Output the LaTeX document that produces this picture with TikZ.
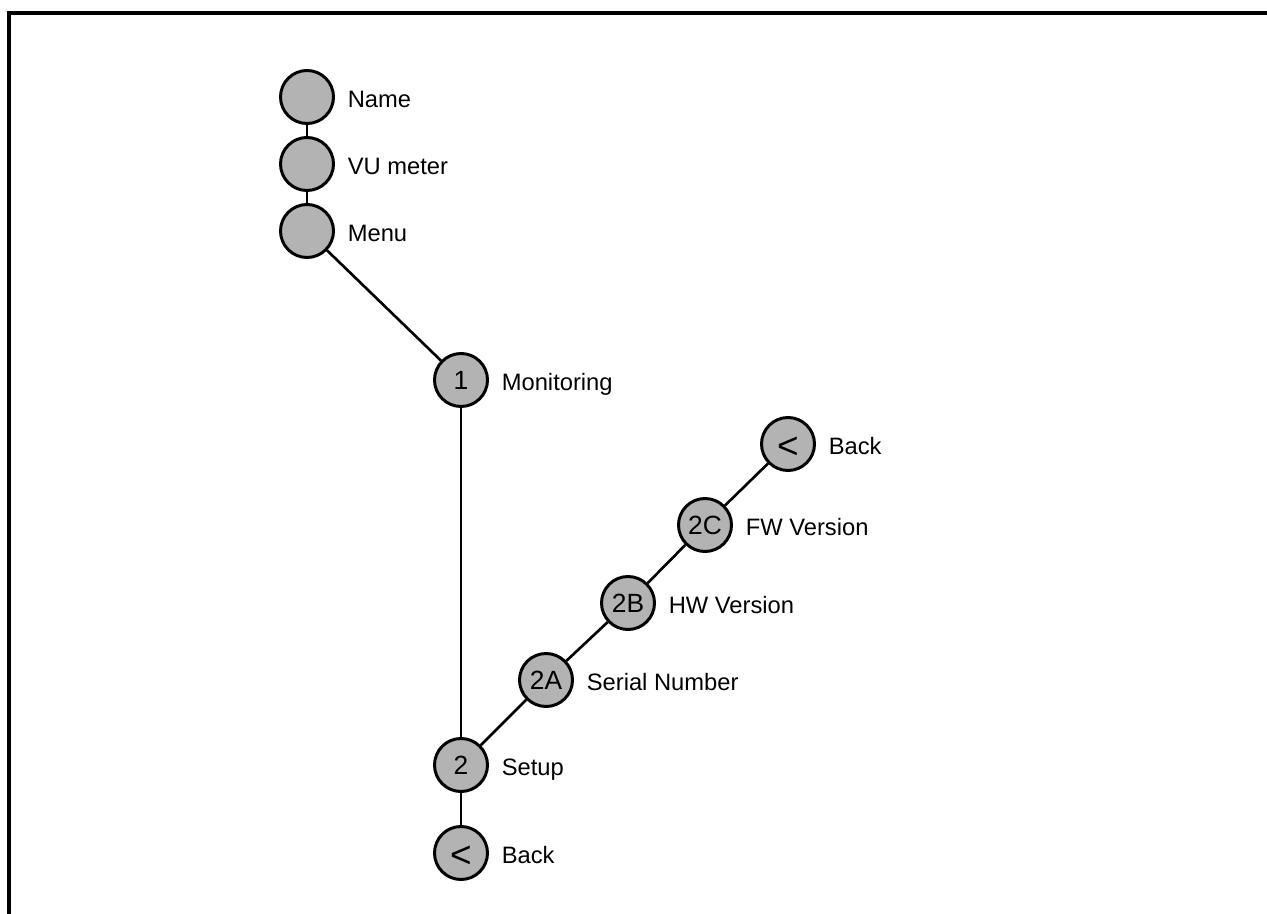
\documentclass[tikz,border=0pt]{standalone}
\usepackage{fontspec}
\setmainfont{Liberation Sans}
\usetikzlibrary{positioning}
\definecolor{mnuLine}{HTML}{000000}
\definecolor{mnuFill}{HTML}{B3B3B3}
\tikzset{
  item/.style={
    circle, draw=mnuLine, line width=1.7pt, fill=mnuFill,
    minimum size=1.06cm, inner sep=0pt, font=\fontsize{15}{17}\selectfont},
  itemlabel/.style={
    inner sep=0pt, text height=0.3cm, text depth=0pt, yshift=-0.06cm,
    font=\fontsize{13.5}{16}\selectfont},
  link/.style={draw=mnuLine, line width=1.5pt},
  frameline/.style={draw=mnuLine, line width=1.9pt},
}
\newcommand{\backsign}{\raisebox{-0.08cm}[\height][\depth]{\fontsize{21}{21}\selectfont\textless}}

\begin{document}
\begin{tikzpicture}
\useasboundingbox (0,0) rectangle (25.34,-18.28);
\draw[frameline] (0.18,-18.4) |- (25.5,-0.26);

% top stack
\foreach \nm/\lbl [count=\i] in {nName/Name, nVU/VU meter, nMenu/Menu} {
  \node[item] (\nm) at (6.14,-0.6-1.34*\i) {};
  \node[itemlabel, right=0.25cm of \nm] (\nm L) {\lbl};
}

% main menu
\node[item] (n1) at (9.22,-7.60) {1};
\node[itemlabel, right=0.25cm of n1] (n1L) {Monitoring};
\node[item] (n2) at (9.22,-15.30) {2};
\node[itemlabel, right=0.25cm of n2] (n2L) {Setup};
\node[item] (nBack) at (9.22,-17.06) {\backsign};
\node[itemlabel, right=0.25cm of nBack] (nBackL) {Back};

% setup submenu
\foreach \nm/\txt/\lbl/\x/\y in {%
  n2A/2A/Serial Number/10.92/-13.60,
  n2B/2B/HW Version/12.56/-12.06,
  n2C/2C/FW Version/14.10/-10.50,
  nSubBack/\backsign/Back/15.76/-8.88%
} {
  \node[item] (\nm) at (\x,\y) {\txt};
  \node[itemlabel, right=0.25cm of \nm] (\nm L) {\lbl};
}

\draw[link] (nName) -- (nVU);
\draw[link] (nVU) -- (nMenu);
\draw[link] (nMenu) -- (n1);
\draw[link] (n1) -- (n2);
\draw[link] (n2) -- (nBack);
\draw[link] (n2) -- (n2A);
\draw[link] (n2A) -- (n2B);
\draw[link] (n2B) -- (n2C);
\draw[link] (n2C) -- (nSubBack);

\end{tikzpicture}
\end{document}
